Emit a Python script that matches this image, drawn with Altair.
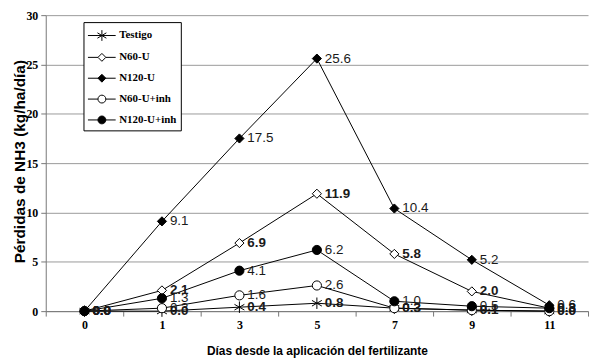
import altair as alt
import pandas as pd

days = [0, 1, 3, 5, 7, 9, 11]
series = ["Testigo", "N60-U", "N120-U", "N60-U+inh", "N120-U+inh"]
testigo = [0.0, 0.0, 0.4, 0.8, 0.3, 0.1, 0.0]
n60u = [0.0, 2.1, 6.9, 11.9, 5.8, 2.0, 0.3]
n120u = [0.0, 9.1, 17.5, 25.6, 10.4, 5.2, 0.6]
n60inh = [0.0, 0.3, 1.6, 2.6, 0.3, 0.1, 0.0]
n120inh = [0.0, 1.3, 4.1, 6.2, 1.0, 0.5, 0.3]
bold_series = ["Testigo", "N60-U"]
y_ticks = [0, 5, 10, 15, 20, 25, 30]

values = [testigo, n60u, n120u, n60inh, n120inh]
rows = []
for s, vals in zip(series, values):
    for d, v in zip(days, vals):
        rows.append({"Serie": s, "Leyenda": s, "Dia": d, "Valor": v})
df = pd.DataFrame(rows)

ASTER = "M0,-1.25 L0,1.25 M-1.08,-0.62 L1.08,0.62 M-1.08,0.62 L1.08,-0.62"
point_shapes = [ASTER, "diamond", "diamond", "circle", "circle"]
point_fills = ["white", "white", "black", "white", "black"]
all_black = ["black"] * 5

# legend symbols: line segment with marker
cx = 0.56
h = 0.44
leg_aster = (f"M-1,0 L2.1,0 M{cx},-0.6 L{cx},0.6 M{cx-0.5},-0.3 L{cx+0.5},0.3 "
             f"M{cx-0.5},0.3 L{cx+0.5},-0.3")
leg_diam_open = (f"M-1,0 L{cx-h},0 M{cx+h},0 L2.1,0 M{cx},-{h} L{cx+h},0 L{cx},{h} L{cx-h},0 Z")
leg_diam_fill = (f"M-1,0 L2.1,0 M{cx},-{h} L{cx+h},0 L{cx},{h} L{cx-h},0 Z")
leg_circ_open = (f"M-1,0 L{cx-h},0 M{cx+h},0 L2.1,0 M{cx-h},0 A{h},{h} 0 1,0 {cx+h},0 "
                 f"A{h},{h} 0 1,0 {cx-h},0 Z")
leg_circ_fill = (f"M-1,0 L2.1,0 M{cx-h},0 A{h},{h} 0 1,0 {cx+h},0 A{h},{h} 0 1,0 {cx-h},0 Z")
legend_shapes = [leg_aster, leg_diam_open, leg_diam_fill, leg_circ_open, leg_circ_fill]

x_enc = alt.X("Dia:O", sort=days, scale=alt.Scale(paddingInner=0, paddingOuter=0),
              axis=alt.Axis(title="Días desde la aplicación del fertilizante", labelAngle=0,
                            tickBand="extent", grid=False, domainColor="#777", tickColor="#777",
                            tickSize=5, labelFont="Liberation Serif", labelFontWeight="bold",
                            labelFontSize=12, labelColor="black", labelPadding=3,
                            titleFont="Liberation Sans", titleFontWeight="bold", titleFontSize=12,
                            titleColor="black", titleY=40, titleBaseline="middle"))
y_enc = alt.Y("Valor:Q", scale=alt.Scale(domain=[0, 30], nice=False),
              axis=alt.Axis(title="Pérdidas de NH3 (kg/ha/día)", values=y_ticks, grid=True,
                            gridColor="#9a9a9a", domainColor="#777", tickColor="#777", tickSize=5,
                            labelFont="Liberation Serif", labelFontWeight="bold", labelFontSize=12,
                            labelColor="black", labelPadding=3,
                            titleFont="Liberation Sans", titleFontWeight="bold", titleFontSize=15.5,
                            titleColor="black", titleX=-26, titleY=147, titleBaseline="middle"))

base = alt.Chart(df)

lines = base.mark_line(color="black", strokeWidth=1).encode(x=x_enc, y=y_enc, detail="Serie:N")

points = base.mark_point(filled=True, stroke="black", strokeWidth=1, size=85, opacity=1).encode(
    x=x_enc, y=y_enc,
    shape=alt.Shape("Serie:N", scale=alt.Scale(domain=series, range=point_shapes), legend=None),
    fill=alt.Fill("Serie:N", scale=alt.Scale(domain=series, range=point_fills), legend=None),
)

leg_props = dict(title=None, orient="none", legendX=38, legendY=7,
                 strokeColor="black", fillColor="white", padding=4,
                 rowPadding=5, symbolSize=324, labelOffset=13,
                 labelFont="Liberation Serif", labelFontWeight="bold",
                 labelFontSize=11, labelColor="black",
                 symbolStrokeWidth=1, symbolOpacity=1)

legend_layer = base.transform_filter("false").mark_point(
    filled=True, strokeWidth=1, size=324, opacity=1).encode(
    x=x_enc, y=y_enc,
    shape=alt.Shape("Leyenda:N", scale=alt.Scale(domain=series, range=legend_shapes),
                    legend=alt.Legend(**leg_props)),
    fill=alt.Fill("Leyenda:N", scale=alt.Scale(domain=series, range=point_fills),
                  legend=alt.Legend(**leg_props)),
    stroke=alt.Stroke("Leyenda:N", scale=alt.Scale(domain=series, range=all_black),
                      legend=alt.Legend(**leg_props)),
)

text_bold = base.transform_filter(
    alt.FieldOneOfPredicate(field="Serie", oneOf=bold_series)).mark_text(
    align="left", baseline="middle", dx=8, font="Liberation Sans", fontSize=13.5,
    fontWeight="bold", color="#1a1a1a").encode(
    x=x_enc, y=y_enc, text=alt.Text("Valor:Q", format=".1f"))

text_reg = base.transform_filter(
    ~alt.FieldOneOfPredicate(field="Serie", oneOf=bold_series)).mark_text(
    align="left", baseline="middle", dx=8, font="Liberation Sans", fontSize=13.5,
    color="#1a1a1a").encode(
    x=x_enc, y=y_enc, text=alt.Text("Valor:Q", format=".1f"))

chart = alt.layer(lines, points, legend_layer, text_reg, text_bold).resolve_scale(
    shape="independent", fill="independent", stroke="independent"
).properties(
    width=546, height=298,
    autosize=alt.AutoSizeParams(type="none"),
    padding={"left": 38, "top": 6, "right": 4, "bottom": 48},
    background="white",
).configure_view(stroke=None)

chart.save("out.html", embed_options={"renderer": "svg", "actions": False})
